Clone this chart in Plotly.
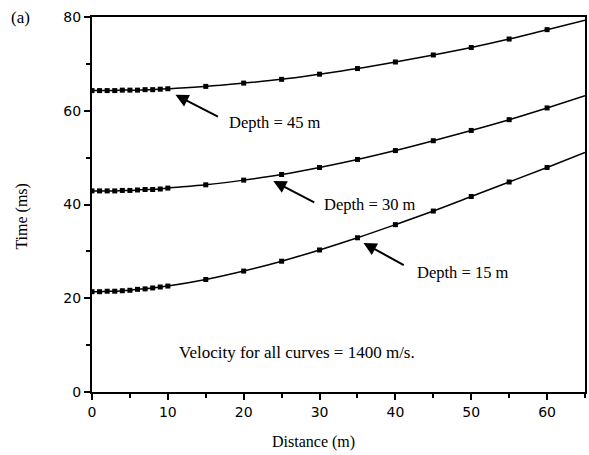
import plotly.graph_objects as go

# Distances (m) at which points are plotted
distance = [0, 1, 2, 3, 4, 5, 6, 7, 8, 9, 10, 15, 20, 25, 30, 35, 40, 45, 50, 55, 60]
# Curve end (right edge of plot)
distance_end = 65

# Travel times (ms)
time_15 = [21.4, 21.4, 21.5, 21.5, 21.6, 21.7, 21.9, 22.0, 22.2, 22.4, 22.6,
           24.0, 25.8, 27.9, 30.3, 32.9, 35.7, 38.6, 41.7, 44.8, 47.9]
time_30 = [42.9, 42.9, 42.9, 42.9, 43.0, 43.0, 43.1, 43.2, 43.2, 43.3, 43.5,
           44.2, 45.2, 46.4, 47.9, 49.6, 51.5, 53.6, 55.8, 58.1, 60.6]
time_45 = [64.3, 64.3, 64.3, 64.3, 64.4, 64.4, 64.4, 64.5, 64.5, 64.6, 64.7,
           65.2, 65.9, 66.7, 67.8, 69.0, 70.4, 71.9, 73.5, 75.3, 77.3]
time_end = {"15": 51.1, "30": 63.2, "45": 79.3}

x_ticks = [0, 10, 20, 30, 40, 50, 60]
y_ticks = [0, 20, 40, 60, 80]

serif = "Liberation Serif, Times New Roman, serif"
sans = "DejaVu Sans, Arial, sans-serif"

fig = go.Figure()
for key, t in (("45", time_45), ("30", time_30), ("15", time_15)):
    fig.add_trace(go.Scatter(
        x=distance + [distance_end], y=t + [time_end[key]],
        mode="lines", line=dict(color="black", width=1.5, shape="spline"),
        showlegend=False, hoverinfo="skip"))
    fig.add_trace(go.Scatter(
        x=distance, y=t, mode="markers",
        marker=dict(symbol="square", size=5, color="black"),
        showlegend=False))

# Arrow annotations (tip, tail, label)
arrows = [
    ("Depth = 45 m", 11.0, 63.4, 16.8, 58.6, 17.8, 57.4),
    ("Depth = 30 m", 23.9, 45.0, 29.5, 40.3, 30.3, 40.1),
    ("Depth = 15 m", 35.8, 31.8, 41.3, 26.9, 42.6, 25.6),
]
for label, tx, ty, ax, ay, lx, ly in arrows:
    fig.add_annotation(x=tx, y=ty, ax=ax, ay=ay, xref="x", yref="y",
                       axref="x", ayref="y", showarrow=True, arrowhead=2,
                       arrowsize=1.3, arrowwidth=2, arrowcolor="black", text="")
    fig.add_annotation(x=lx, y=ly, xref="x", yref="y", text=label,
                       showarrow=False, xanchor="left", yanchor="middle",
                       font=dict(family=serif, size=16.5, color="#000000"))

fig.add_annotation(x=11.2, y=8.5, xref="x", yref="y",
                   text="Velocity for all curves = 1400 m/s.", showarrow=False,
                   xanchor="left", yanchor="middle",
                   font=dict(family=serif, size=17, color="#000000"))
fig.add_annotation(x=-0.169, y=1.0, xref="paper", yref="paper", text="(a)",
                   showarrow=False, xanchor="left", yanchor="middle",
                   font=dict(family=serif, size=17, color="#000000"))
# Axis titles
fig.add_annotation(x=0.45, y=-0.133, xref="paper", yref="paper", text="Distance (m)",
                   showarrow=False, xanchor="center", yanchor="middle",
                   font=dict(family=serif, size=16, color="#000000"))
fig.add_annotation(x=-0.141, y=0.469, xref="paper", yref="paper", text="Time (ms)",
                   showarrow=False, xanchor="center", yanchor="middle", textangle=-90,
                   font=dict(family=serif, size=16, color="#000000"))

axis_common = dict(showgrid=False, zeroline=False, showline=True,
                   linecolor="black", linewidth=2, mirror=True,
                   ticks="outside", ticklen=6, tickwidth=2, tickcolor="black",
                   tickfont=dict(family=sans, size=14, color="black"))

fig.update_xaxes(range=[0, 65], tickvals=x_ticks,
                 minor=dict(ticks="outside", ticklen=4, tickwidth=1.5,
                            tickcolor="black", dtick=5, tick0=0),
                 **axis_common)
fig.update_yaxes(range=[0, 80], tickvals=y_ticks,
                 minor=dict(ticks="outside", ticklen=4, tickwidth=1.5,
                            tickcolor="black", dtick=10, tick0=0),
                 **axis_common)

fig.update_layout(width=589, height=455, margin=dict(l=92, r=2, t=17, b=63),
                  plot_bgcolor="white", paper_bgcolor="white")

fig.write_html("out.html")
